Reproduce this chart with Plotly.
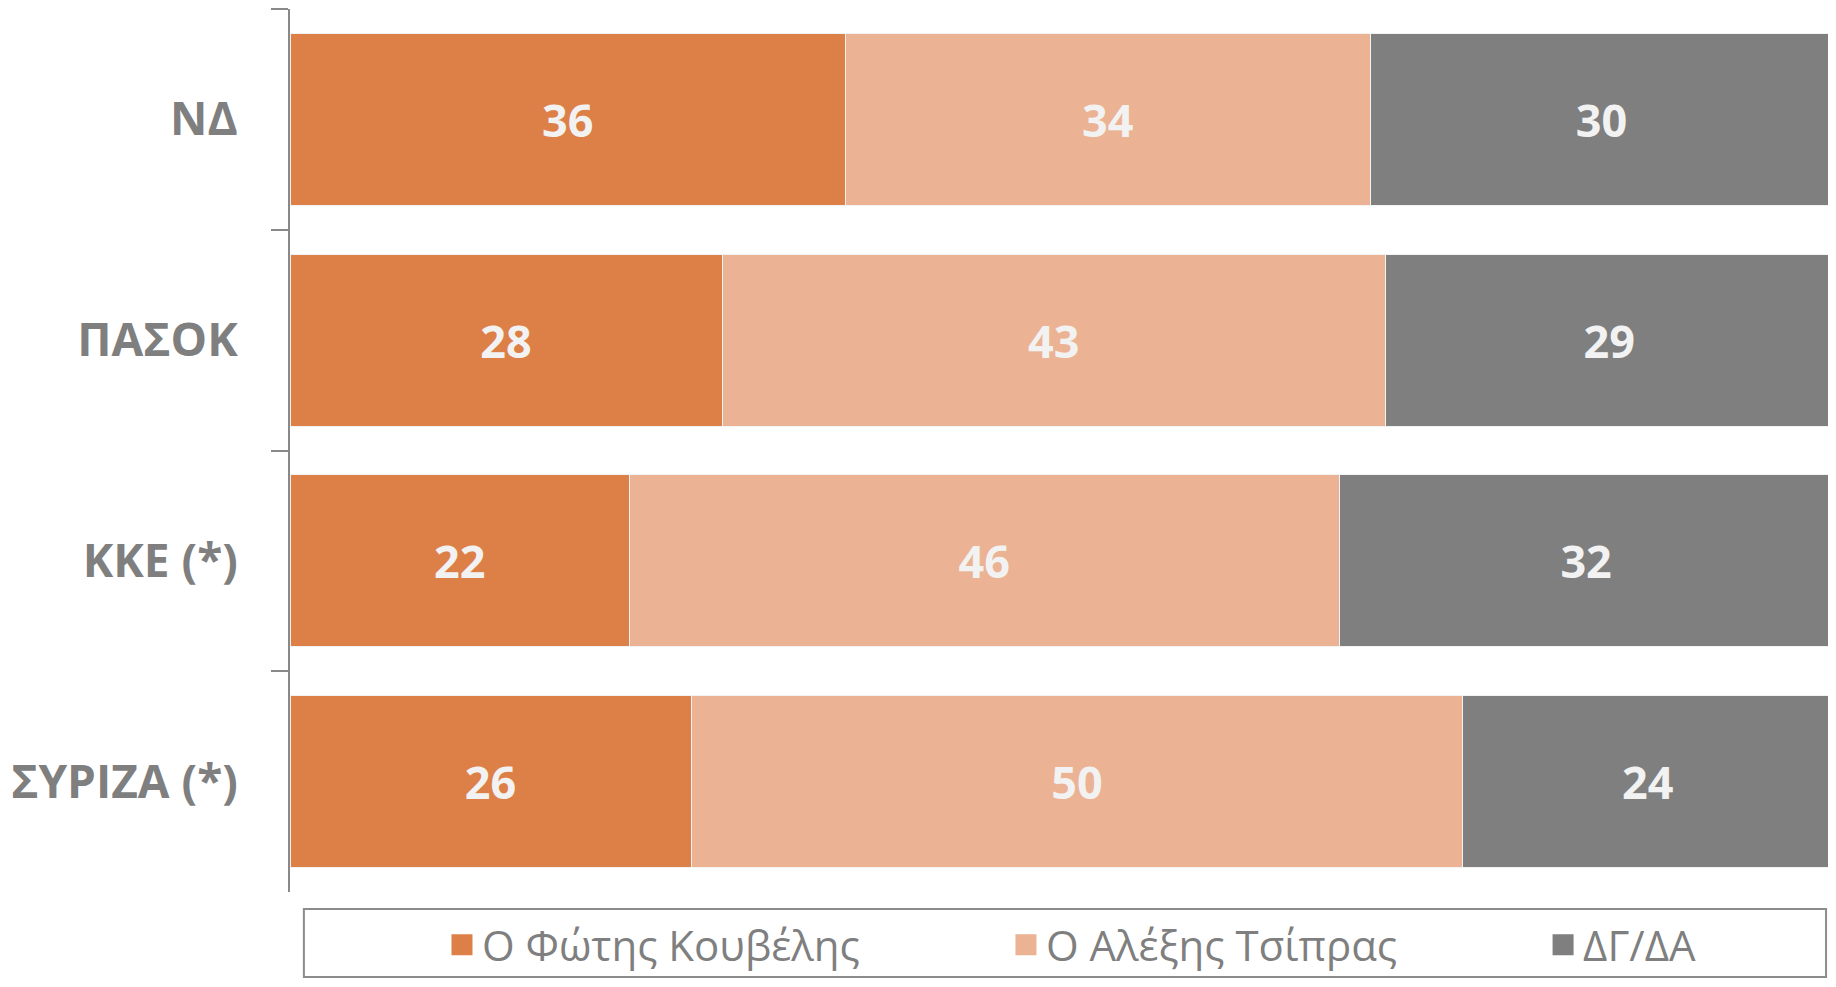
import plotly.graph_objects as go

parties = ['ΝΔ', 'ΠΑΣΟΚ', 'ΚΚΕ (*)', 'ΣΥΡΙΖΑ (*)']
kouvelis = [36, 28, 22, 26]
tsipras = [34, 43, 46, 50]
dk_na = [30, 29, 32, 24]

series = [
    ('Ο Φώτης Κουβέλης', kouvelis, '#DD8047'),
    ('Ο Αλέξης Τσίπρας', tsipras, '#EBB293'),
    ('ΔΓ/ΔΑ', dk_na, '#7F7F7F'),
]
legend_ids = ['legend', 'legend2', 'legend3']
legend_x = [0.0985, 0.4640, 0.8121]

fig = go.Figure()
for name, vals, col in series:
    fig.add_trace(go.Bar(
        y=parties, x=vals, name=name, orientation='h',
        marker=dict(color=col, line=dict(color='#f2f2f2', width=1)),
        text=vals, texttemplate='%{x}', textposition='inside',
        insidetextanchor='middle',
        textfont=dict(family='Open Sans', size=45, color='#f2f2f2', weight='bold'),
        showlegend=False, hoverinfo='skip'))

# legend entries (one legend per item so they can be spaced like the original)
for (name, vals, col), lid in zip(series, legend_ids):
    fig.add_trace(go.Scatter(
        x=[None], y=[None], mode='markers', name=name, legend=lid,
        marker=dict(symbol='square', size=26, color=col,
                    line=dict(color=col, width=5))))

leg_style = dict(orientation='h', xanchor='left', y=-0.06, yanchor='middle',
                 font=dict(size=42, color='#7F7F7F'), itemwidth=30,
                 bgcolor='rgba(0,0,0,0)')

fig.update_layout(
    width=1828, height=971,
    barmode='stack', bargap=0.22,
    plot_bgcolor='white', paper_bgcolor='white',
    margin=dict(l=282, r=3, t=1, b=87, autoexpand=False),
    font=dict(family='Open Sans', color='#7F7F7F'),
    showlegend=True,
    legend=dict(x=legend_x[0], **leg_style),
    legend2=dict(x=legend_x[1], **leg_style),
    legend3=dict(x=legend_x[2], **leg_style),
    xaxis=dict(range=[0, 100], visible=False, fixedrange=True),
    yaxis=dict(categoryorder='array', categoryarray=parties, autorange='reversed',
               showline=True, linecolor='#898989', linewidth=2,
               ticks='outside', tickson='boundaries', ticklen=17, tickwidth=2,
               tickcolor='#898989', ticklabelstandoff=41,
               tickfont=dict(size=46, color='#7F7F7F', weight='bold'),
               showgrid=False, zeroline=False),
)

# legend frame
fig.add_shape(type='rect', xref='paper', yref='paper',
              x0=0.009, x1=0.9955, y0=-0.0963, y1=-0.0193,
              line=dict(color='#8c8c8c', width=2), fillcolor='rgba(0,0,0,0)')

fig.write_html("out.html")
